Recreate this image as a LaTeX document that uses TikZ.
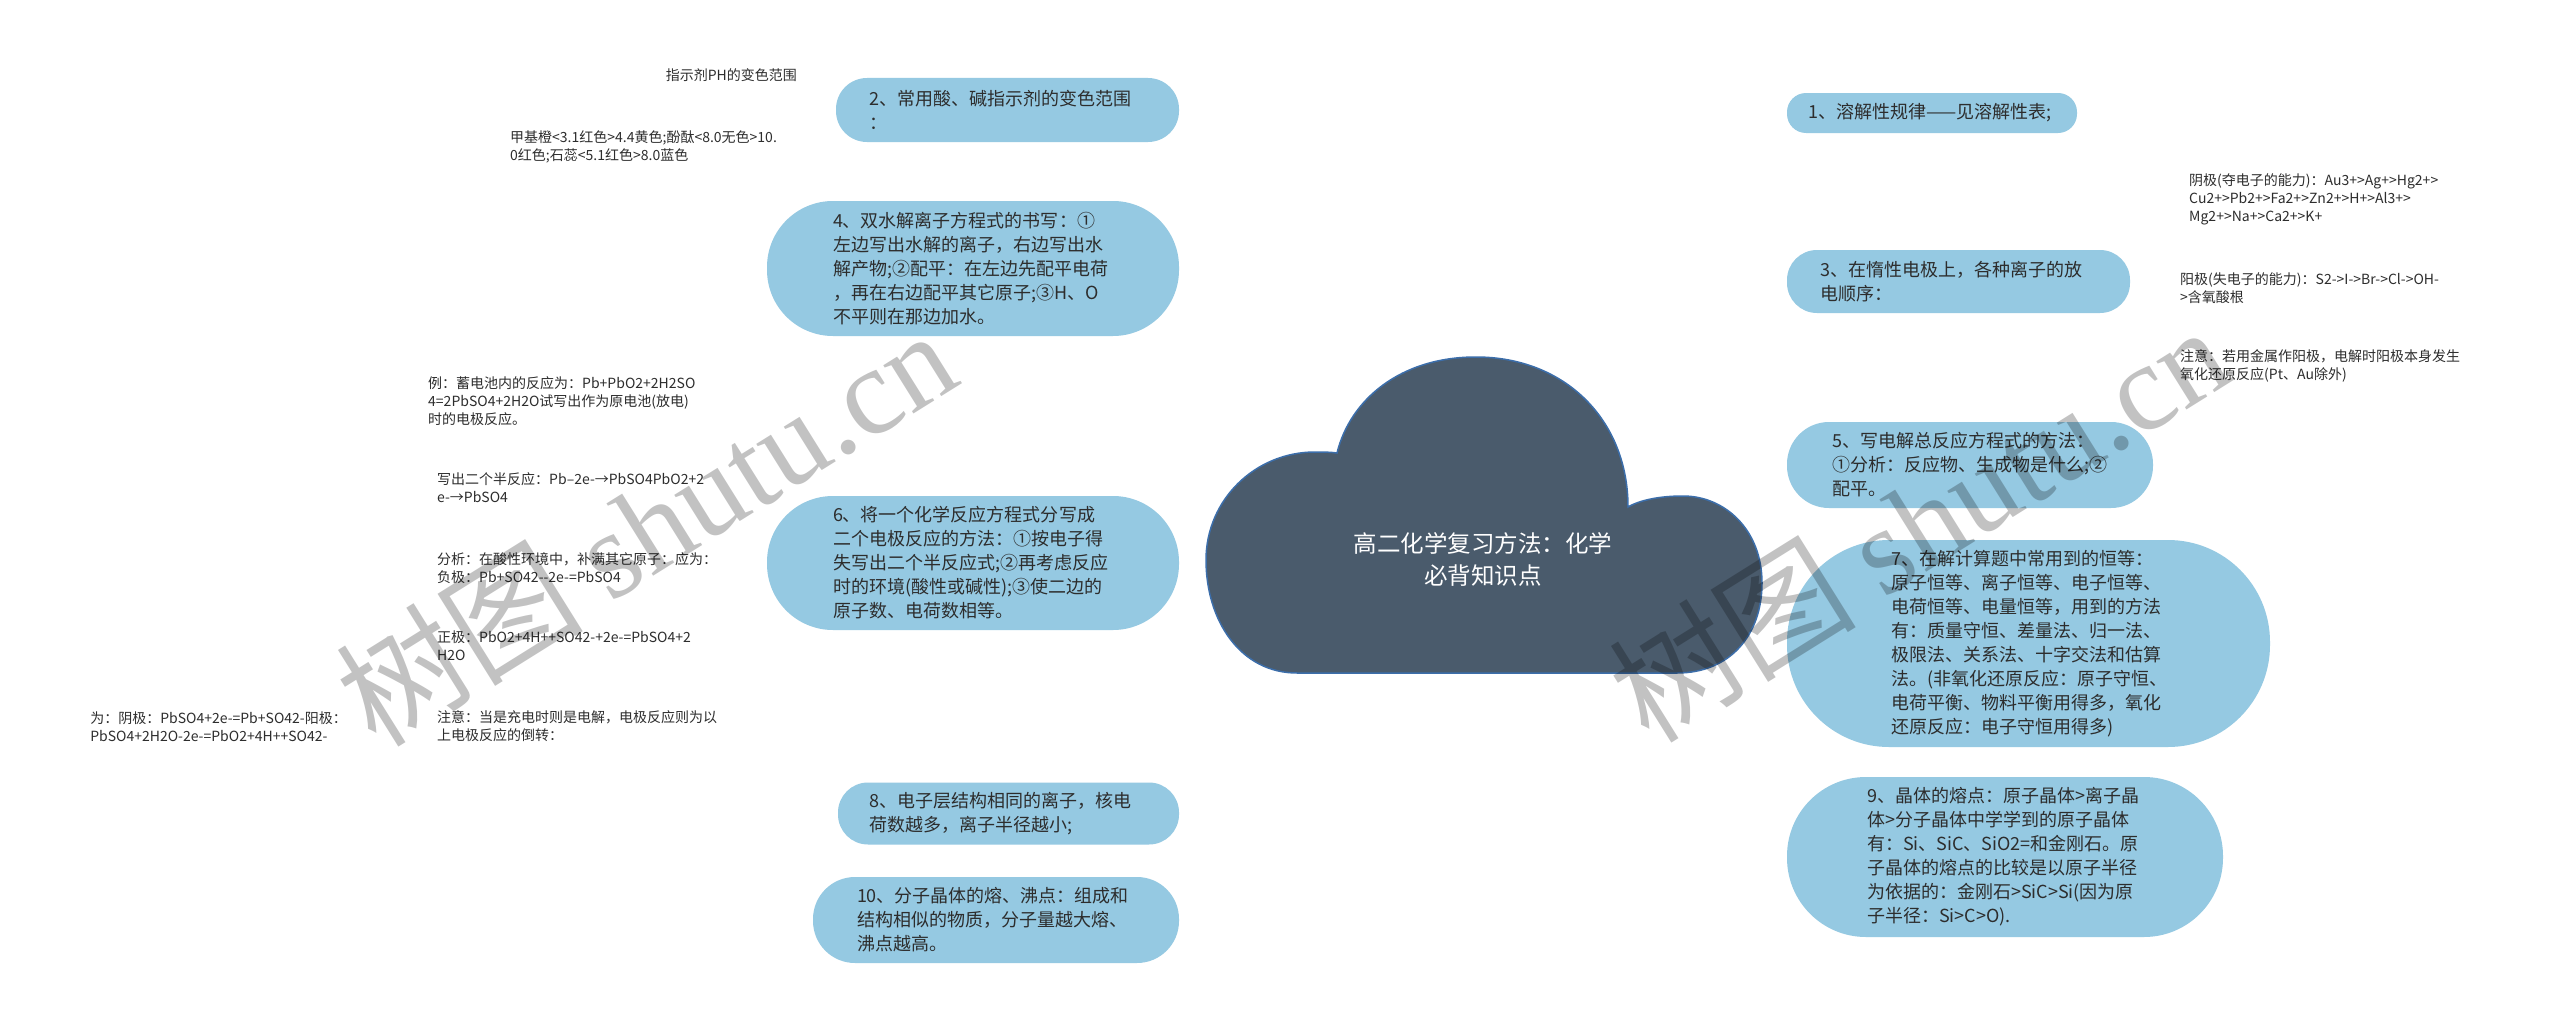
\documentclass[tikz,border=0pt]{standalone}
\usepackage{fontspec}
\setmainfont{Noto Sans CJK SC}
\newfontfamily\wmfont{Liberation Serif}
\usetikzlibrary{calc}
\pgfdeclarelayer{bg}\pgfdeclarelayer{fg}\pgfsetlayers{bg,main,fg}
\definecolor{pillblue}{RGB}{149,201,226}
\definecolor{cloudfill}{RGB}{74,91,108}
\definecolor{cloudline}{RGB}{60,110,170}
\definecolor{linecol}{RGB}{56,72,88}
\definecolor{textcol}{RGB}{45,45,45}
\begin{document}
\begin{tikzpicture}[x=1pt,y=-1pt,
  pill/.style={fill=pillblue, text=textcol, align=left, inner sep=0pt, font=\fontsize{18}{24}\selectfont},
  leaf/.style={text=textcol, align=left, inner sep=0pt, font=\fontsize{14}{18}\selectfont},
  trunk/.style={draw=linecol, line width=2.6pt, line cap=round},
  brace/.style={draw=linecol, line width=1.6pt, line cap=round},
  wm/.style={text=black, opacity=0.24, inner sep=0pt, font=\fontsize{124}{124}\selectfont}]
\fill[white] (0,0) rectangle (2560,1025);
\useasboundingbox (0,0) rectangle (2560,1025);

% cloud
\filldraw[fill=cloudfill, draw=cloudline, line width=1.5pt]
  (1297,673) -- (1677,673)
  .. controls (1730,673) and (1762,635) .. (1762,583)
  .. controls (1762,530) and (1725,496) .. (1683,496)
  .. controls (1660,496) and (1640,500) .. (1628,507)
  .. controls (1628,420) and (1565,357) .. (1476,357)
  .. controls (1400,357) and (1350,400) .. (1337,453)
  .. controls (1330,452) and (1322,452) .. (1315,452)
  .. controls (1255,452) and (1206,500) .. (1206,560)
  .. controls (1206,620) and (1240,673) .. (1297,673) -- cycle;
\node[text=white, align=center, inner sep=0pt, font=\fontsize{23.5}{32}\selectfont] (root) at (1483,559) {高二化学复习方法：化学\\必背知识点};
\coordinate (rootL) at (1204,515);
\coordinate (rootR) at (1762,515);

% left main nodes
\node[pill, minimum width=343pt, minimum height=64pt, rounded corners=31pt, text width=277pt] (n2) at (1007.5,110) {2、常用酸、碱指示剂的变色范围\\：};
\node[pill, minimum width=412pt, minimum height=135pt, rounded corners=66pt, text width=280pt] (n4) at (973,268.5) {4、双水解离子方程式的书写：①\\左边写出水解的离子，右边写出水\\解产物;②配平：在左边先配平电荷\\，再在右边配平其它原子;③H、O\\不平则在那边加水。};
\node[pill, minimum width=412pt, minimum height=134pt, rounded corners=66pt, text width=280pt] (n6) at (973,563) {6、将一个化学反应方程式分写成\\二个电极反应的方法：①按电子得\\失写出二个半反应式;②再考虑反应\\时的环境(酸性或碱性);③使二边的\\原子数、电荷数相等。};
\node[pill, minimum width=341pt, minimum height=62pt, rounded corners=30pt, text width=279pt] (n8) at (1008.5,813.5) {8、电子层结构相同的离子，核电\\荷数越多，离子半径越小;};
\node[pill, minimum width=366pt, minimum height=86pt, rounded corners=42pt, text width=278pt] (n10) at (996,920) {10、分子晶体的熔、沸点：组成和\\结构相似的物质，分子量越大熔、\\沸点越高。};

% right main nodes
\node[pill, minimum width=290pt, minimum height=40pt, rounded corners=19pt, text width=248pt] (n1) at (1932,113) {1、溶解性规律——见溶解性表;};
\node[pill, minimum width=343pt, minimum height=63pt, rounded corners=30pt, text width=277pt] (n3) at (1958.5,281.5) {3、在惰性电极上，各种离子的放\\电顺序：};
\node[pill, minimum width=366pt, minimum height=86pt, rounded corners=42pt, text width=276pt] (n5) at (1970,465) {5、写电解总反应方程式的方法：\\①分析：反应物、生成物是什么;②\\配平。};
\node[pill, minimum width=483pt, minimum height=207pt, rounded corners=102pt, text width=275pt] (n7) at (2028.5,643.5) {7、在解计算题中常用到的恒等：\\原子恒等、离子恒等、电子恒等、\\电荷恒等、电量恒等，用到的方法\\有：质量守恒、差量法、归一法、\\极限法、关系法、十字交法和估算\\法。(非氧化还原反应：原子守恒、\\电荷平衡、物料平衡用得多，氧化\\还原反应：电子守恒用得多)};
\node[pill, minimum width=436pt, minimum height=160pt, rounded corners=79pt, text width=276pt] (n9) at (2005,857) {9、晶体的熔点：原子晶体>离子晶\\体>分子晶体中学学到的原子晶体\\有：Si、SiC、SiO2=和金刚石。原\\子晶体的熔点的比较是以原子半径\\为依据的：金刚石>SiC>Si(因为原\\子半径：Si>C>O).};

% leaves of node 2
\node[leaf, anchor=east] (l21) at (797,75) {指示剂PH的变色范围};
\node[leaf, anchor=west] (l22) at (510,147) {甲基橙<3.1红色>4.4黄色;酚酞<8.0无色>10.\\0红色;石蕊<5.1红色>8.0蓝色};
\coordinate (e21) at (813,75);
\coordinate (e22) at (813,147);

% leaves of node 3
\node[leaf, anchor=west] (l31) at (2189,199) {阴极(夺电子的能力)：Au3+>Ag+>Hg2+>\\Cu2+>Pb2+>Fa2+>Zn2+>H+>Al3+>\\Mg2+>Na+>Ca2+>K+};
\node[leaf, anchor=west] (l32) at (2180,288) {阳极(失电子的能力)：S2->I->Br->Cl->OH-\\>含氧酸根};
\node[leaf, anchor=west] (l33) at (2180,366) {注意：若用金属作阳极，电解时阳极本身发生\\氧化还原反应(Pt、Au除外)};
\coordinate (e31) at (2154,197);
\coordinate (e32) at (2154,286);
\coordinate (e33) at (2154,365);

% leaves of node 6
\node[leaf, anchor=west] (l61) at (428,401) {例：蓄电池内的反应为：Pb+PbO2+2H2SO\\4=2PbSO4+2H2O试写出作为原电池(放电)\\时的电极反应。};
\node[leaf, anchor=west] (l62) at (437,488) {写出二个半反应：Pb–2e-→PbSO4PbO2+2\\e-→PbSO4};
\node[leaf, anchor=west] (l63) at (437,568) {分析：在酸性环境中，补满其它原子：应为：\\负极：Pb+SO42-{}-2e-=PbSO4};
\node[leaf, anchor=west] (l64) at (437,646) {正极：PbO2+4H++SO42-+2e-=PbSO4+2\\H2O};
\node[leaf, anchor=west] (l65) at (437,726) {注意：当是充电时则是电解，电极反应则为以\\上电极反应的倒转：};
\node[leaf, anchor=east] (l651) at (347,727) {为：阴极：PbSO4+2e-=Pb+SO42-阳极：\\PbSO4+2H2O-2e-=PbO2+4H++SO42-};
\coordinate (e61) at (741,402);
\coordinate (e62) at (741,487);
\coordinate (e63) at (741,567);
\coordinate (e64) at (741,645);
\coordinate (e65) at (741,725);

\begin{pgfonlayer}{bg}
  \foreach \n in {n2,n4,n6,n8,n10}
    \draw[trunk] (rootL) .. controls +(-13,0) and +(12,0) .. (\n.east);
  \foreach \n in {n1,n3,n5,n7,n9}
    \draw[trunk] (rootR) .. controls +(13,0) and +(-12,0) .. (\n.west);
  \foreach \e in {e21,e22}
    \draw[brace] (n2.west) .. controls +(-12,0) and +(11,0) .. (\e);
  \foreach \e in {e31,e32,e33}
    \draw[brace] (n3.east) .. controls +(12,0) and +(-12,0) .. (\e);
  \foreach \e in {e61,e62,e63,e64,e65}
    \draw[brace] (n6.west) .. controls +(-13,0) and +(11,0) .. (\e);
  \draw[trunk, line width=2.4pt, line cap=butt, shorten <=25pt, shorten >=40pt] (l65.west) -- (l651.east);
\end{pgfonlayer}

\begin{pgfonlayer}{fg}
  \node[wm, rotate=32] (wm1) at (645,526) {树图 {\wmfont shutu.cn}};
  \node[wm, rotate=32] (wm2) at (1918,522) {树图 {\wmfont shutu.cn}};
\end{pgfonlayer}
\end{tikzpicture}
\end{document}
